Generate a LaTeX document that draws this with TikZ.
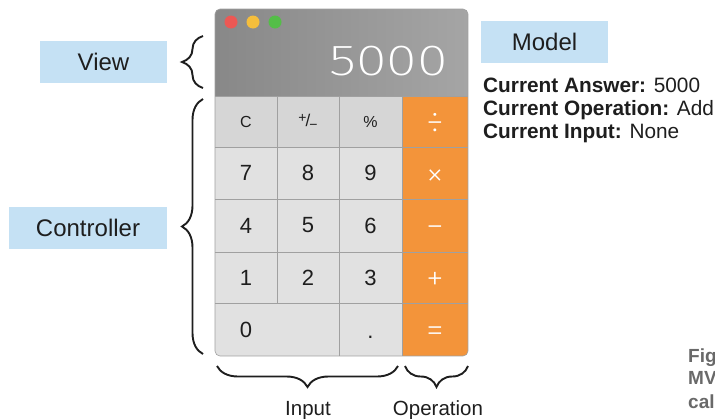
\documentclass[tikz,border=0pt]{standalone}
\usepackage{fontspec}
\usepackage{graphicx}
\setmainfont{Liberation Sans}
\newfontfamily\thinfont{Fira Sans Light}
\newfontfamily\xthinfont{Fira Sans ExtraLight}
\usetikzlibrary{decorations.pathreplacing}
\definecolor{lblue}{RGB}{197,225,244}
\definecolor{txt}{RGB}{30,30,30}
\definecolor{topA}{RGB}{136,136,136}
\definecolor{topB}{RGB}{165,165,165}
\definecolor{keyA}{RGB}{214,214,214}
\definecolor{keyB}{RGB}{225,225,225}
\definecolor{keyline}{RGB}{160,160,160}
\definecolor{orng}{RGB}{243,148,58}
\definecolor{tlred}{RGB}{236,88,84}
\definecolor{tlyel}{RGB}{245,190,60}
\definecolor{tlgrn}{RGB}{84,190,72}
\definecolor{figgray}{RGB}{105,105,105}
\begin{document}
\begin{tikzpicture}[x=1pt,y=-1pt,
  tag/.style={fill=lblue, inner sep=0pt, text=txt, minimum height=42pt, font=\fontsize{24}{28}\selectfont},
  brc/.style={decorate, decoration={brace, amplitude=21pt}, line width=1.9pt, draw=txt},
  digit/.style={text=txt, inner sep=0pt, font=\fontsize{22}{24}\selectfont},
  small/.style={text=txt, inner sep=0pt, font=\fontsize{16}{18}\selectfont},
  opkey/.style={anchor=base, text=white, inner sep=0pt, font=\xthinfont\fontsize{36}{38}\selectfont},
  info/.style={anchor=base west, inner sep=0pt, text=txt, font=\fontsize{20.8}{22}\selectfont},
  captxt/.style={anchor=base, inner sep=0pt, text=txt, font=\fontsize{20.5}{22}\selectfont},
  figtxt/.style={anchor=base west, inner sep=0pt, text=figgray, font=\bfseries\fontsize{19}{20}\selectfont}]
\useasboundingbox (0,0) rectangle (715,418);

% labels
\node[tag, minimum width=127pt] (view) at (103.5,62) {View};
\node[tag, minimum width=158pt] (ctrl) at (88,228) {Controller};
\node[tag, minimum width=127pt] (model) at (544.5,42) {Model};

% model info
\node[info] (ans) at (483,92) {\textbf{Current Answer:} 5000};
\node[info] (op) at (483,115) {\textbf{Current Operation:} Add};
\node[info] (inp) at (483,138) {\textbf{Current Input:} None};

% calculator
\begin{scope}
\clip[rounded corners=5pt] (215,9) rectangle (468,356);
\shade[left color=topA, right color=topB] (215,9) rectangle (468,96);
\fill[keyA] (215,96) rectangle (402,147);
\fill[keyB] (215,147) rectangle (402,356);
\fill[orng] (402,96) rectangle (468,356);
\draw[keyline, line width=0.8pt]
  (215,96) -- (468,96)
  (215,147) -- (468,147)
  (215,199) -- (468,199)
  (215,252) -- (468,252)
  (215,303) -- (468,303)
  (277,96) -- (277,303)
  (339,96) -- (339,356)
  (402,96) -- (402,356);
\end{scope}
\draw[rounded corners=5pt, draw=keyline, line width=0.6pt] (215,9) rectangle (468,356);

% traffic lights
\fill[tlred] (231,22) circle (6.5pt);
\fill[tlyel] (253,22) circle (6.5pt);
\fill[tlgrn] (275,22) circle (6.5pt);

% display
\node[anchor=base east, inner sep=0pt, text=white, font=\xthinfont\fontsize{43.5}{45}\selectfont] (disp) at (448,75) {\scalebox{1.28}[1]{5000}};

% keys
\node[small] (kc) at (246,121.5) {C};
\node[small] (kpm) at (308,121.5) {\raisebox{3.5pt}{\fontsize{14}{14}\selectfont +}\kern-1pt{\fontsize{17}{17}\selectfont/}\kern-1pt\raisebox{-3pt}{\fontsize{14}{14}\selectfont −}};
\node[small] (kpc) at (370.5,121.5) {\%};
\node[digit] (k7) at (246,173) {7};
\node[digit] (k8) at (308,173) {8};
\node[digit] (k9) at (370.5,173) {9};
\node[digit] (k4) at (246,225.5) {4};
\node[digit] (k5) at (308,225.5) {5};
\node[digit] (k6) at (370.5,225.5) {6};
\node[digit] (k1) at (246,277.5) {1};
\node[digit] (k2) at (308,277.5) {2};
\node[digit] (k3) at (370.5,277.5) {3};
\node[digit] (k0) at (246,329.5) {0};
\node[digit, anchor=base] (kdot) at (370.5,338) {.};
\node[opkey] (kdiv) at (435,134.5) {÷};
\node[opkey] (kmul) at (435,186) {×};
\node[opkey] (ksub) at (435,238.5) {−};
\node[opkey] (kadd) at (435,290.5) {+};
\node[opkey] (keq) at (435,342.5) {=};

% braces
\coordinate (vb1) at (203,88);
\coordinate (vb2) at (203,36);
\coordinate (cb1) at (203,354);
\coordinate (cb2) at (203,99);
\coordinate (ib1) at (398,366);
\coordinate (ib2) at (217,366);
\coordinate (ob1) at (468,366);
\coordinate (ob2) at (405,366);
\draw[brc] (vb1) -- (vb2);
\draw[brc] (cb1) -- (cb2);
\draw[brc] (ib1) -- (ib2);
\draw[brc] (ob1) -- (ob2);

% captions
\node[captxt] (input) at (308,415) {Input};
\node[captxt] (oper) at (438,415) {Operation};

% figure caption (cut off)
\node[figtxt] (fig1) at (688,362) {Fig};
\node[figtxt] (fig2) at (688,384) {MV};
\node[figtxt] (fig3) at (688,408) {cal};
\end{tikzpicture}
\end{document}
